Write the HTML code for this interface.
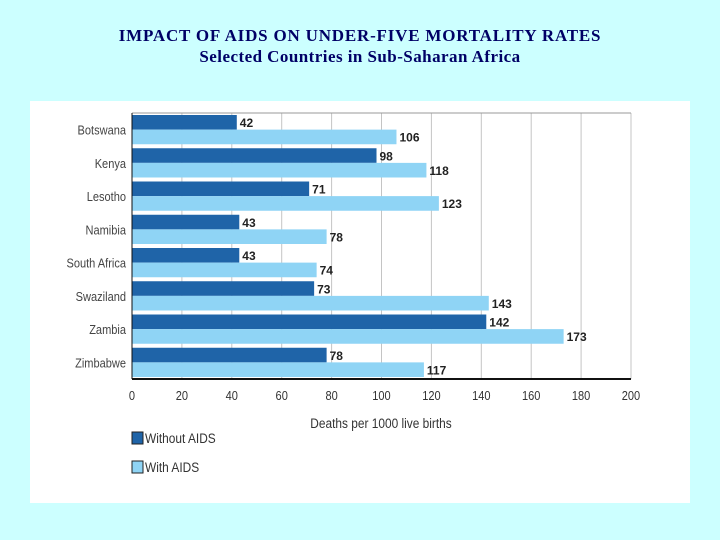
<!DOCTYPE html>
<html><head><meta charset="utf-8"><style>
body{margin:0;width:720px;height:540px;background:#ccffff;position:relative;overflow:hidden;font-family:"Liberation Sans",sans-serif}
.t{position:absolute;left:0;width:720px;text-align:center;font-family:"Liberation Serif",serif;font-weight:bold;color:#000066}
</style></head><body>
<div class="t" style="top:26px;font-size:17px;letter-spacing:0.8px">IMPACT OF AIDS ON UNDER-FIVE MORTALITY RATES</div>
<div class="t" style="top:47px;font-size:17px;letter-spacing:0.45px">Selected Countries in Sub-Saharan Africa</div>
<svg id="c" width="720" height="540" style="position:absolute;left:0;top:0"></svg>
<script>
const categories=["Botswana","Kenya","Lesotho","Namibia","South Africa","Swaziland","Zambia","Zimbabwe"];
const withoutAids=[42,98,71,43,43,73,142,78];
const withAids=[106,118,123,78,74,143,173,117];
const ticks=[0,20,40,60,80,100,120,140,160,180,200];
const svg=document.getElementById('c');
const NS='http://www.w3.org/2000/svg';
const X0=132,X1=631,Y0=113,Y1=379,MAX=200;
const x=v=>X0+(X1-X0)*v/MAX;
const band=(Y1-Y0)/categories.length;
function mk(t,a,txt){const e=document.createElementNS(NS,t);for(const k in a)e.setAttribute(k,a[k]);if(txt!==undefined)e.textContent=txt;svg.appendChild(e);return e;}
let p=mk('rect',{x:30,y:101,width:660,height:402,fill:'#fff'});


ticks.forEach(t=>{
 if(t>0){let g=mk('line',{x1:x(t),x2:x(t),y1:Y0,y2:Y1,stroke:'#c4c4c4','stroke-width':1});
 
 }
 let l=mk('text',{x:x(t),y:400,'text-anchor':'middle','font-size':13,fill:'#333',transform:`translate(${x(t)},0) scale(0.85,1) translate(${-x(t)},0)`},t);
 
 
});
let fr=mk('line',{x1:X0,x2:X1,y1:Y0,y2:Y0,stroke:'#999'});


categories.forEach((c,i)=>{
 const y=Y0+i*band+2;
 const h=(band-4)/2;
 let b1=mk('rect',{x:X0,y:y,width:x(withoutAids[i])-X0,height:h,fill:'#1f64a8'});
 
 
 let b2=mk('rect',{x:X0,y:y+h,width:x(withAids[i])-X0,height:h,fill:'#8fd4f5'});
 
 
 let v1=mk('text',{x:x(withoutAids[i])+3,y:y+12,'font-size':12,'font-weight':'bold',fill:'#222'},withoutAids[i]);
 
 
 let v2=mk('text',{x:x(withAids[i])+3,y:y+h+12,'font-size':12,'font-weight':'bold',fill:'#222'},withAids[i]);
 
 
 let cl=mk('text',{x:126,y:y+h+5,'text-anchor':'end','font-size':13,fill:'#444',transform:`translate(126,0) scale(0.85,1) translate(-126,0)`},c);
 
 
});
let ax=mk('line',{x1:X0,x2:X1,y1:Y1,y2:Y1,stroke:'#111','stroke-width':2});


let ay=mk('line',{x1:X0,x2:X0,y1:Y0,y2:Y1,stroke:'#111','stroke-width':1});


let at=mk('text',{x:381,y:428,'text-anchor':'middle','font-size':14,fill:'#333',transform:'translate(381,0) scale(0.85,1) translate(-381,0)'},'Deaths per 1000 live births');


[['Without AIDS','#1f64a8',432],['With AIDS','#8fd4f5',461]].forEach(([n,col,yy])=>{
 let s=mk('rect',{x:132,y:yy,width:11,height:12,fill:col,stroke:'#222','stroke-width':1});
 
 
 let t=mk('text',{x:145,y:yy+11,'font-size':14,fill:'#333',transform:'translate(145,0) scale(0.85,1) translate(-145,0)'},n);
 
 
});
</script>
</body></html>
